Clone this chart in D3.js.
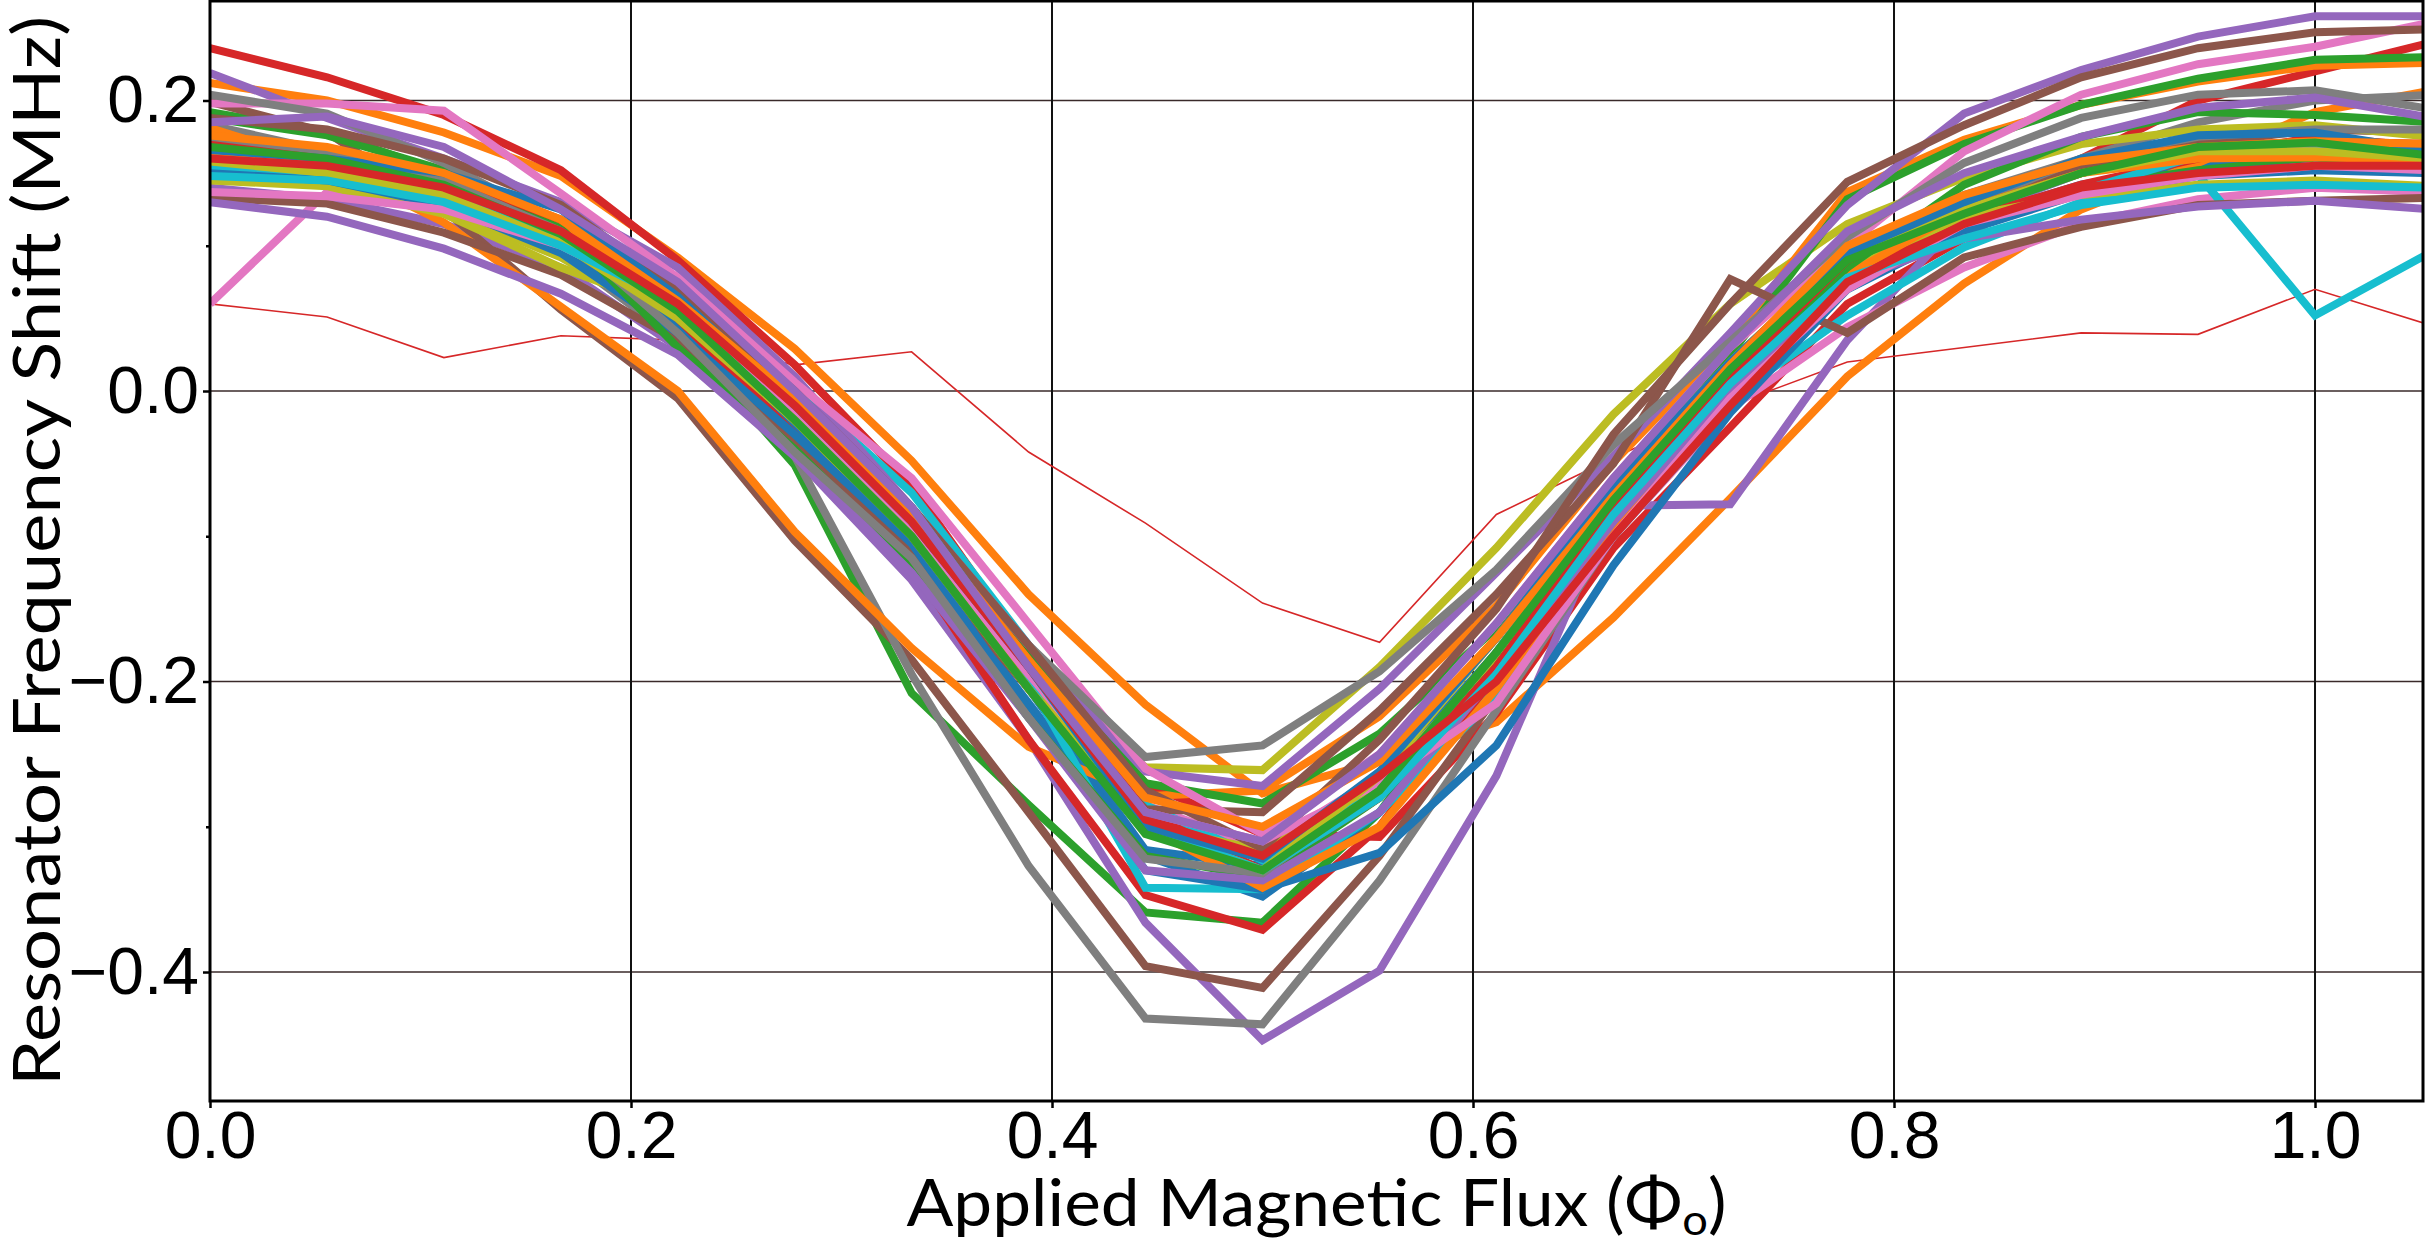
<!DOCTYPE html>
<html>
  <head>
    <title>Resonator frequency shift vs applied flux</title>
    <meta charset="utf-8">
    <style>
    body { margin: 0; border: 0; overflow: hidden; background: #fff; }
    .axis text {
      font-family: "Liberation Sans", Arial, sans-serif;
      font-size: 66px;
      fill: #000;
    }
    .axis path { display: none; }
    .axis line { stroke: #000; stroke-width: 2.5px; }
    .label {
      font-family: Lato, "Open Sans", sans-serif;
      font-size: 66px;
      fill: #000;
    }
    </style>
  </head>
  <body>
    <script src="https://cdnjs.cloudflare.com/ajax/libs/d3/7.8.5/d3.min.js"></script>
    <script>
// flux points, in units of the flux quantum (steps of 1/18)
var flux = [0, 0.0556, 0.1111, 0.1667, 0.2222, 0.2778, 0.3333, 0.3889, 0.4444, 0.5,
            0.5556, 0.6111, 0.6667, 0.7222, 0.7778, 0.8333, 0.8889, 0.9444, 1.0, 1.0556];

// frequency shift (MHz), one row per trace, grouped by the colour they get
var blueRuns = [
  [0.160, 0.152, 0.138, 0.108, 0.052, -0.020, -0.100, -0.205, -0.316, -0.327, -0.270, -0.180, -0.075, 0.012, 0.082, 0.118, 0.142, 0.155, 0.160, 0.158],
  [0.155, 0.148, 0.132, 0.100, 0.045, -0.028, -0.110, -0.215, -0.320, -0.348, -0.290, -0.195, -0.090, 0.003, 0.078, 0.114, 0.140, 0.150, 0.155, 0.152],
  [0.150, 0.145, 0.128, 0.095, 0.040, -0.030, -0.105, -0.220, -0.330, -0.343, -0.318, -0.244, -0.120, -0.015, 0.070, 0.110, 0.136, 0.148, 0.152, 0.150],
  [0.166, 0.160, 0.150, 0.125, 0.065, -0.010, -0.090, -0.190, -0.300, -0.322, -0.262, -0.170, -0.065, 0.020, 0.095, 0.130, 0.160, 0.176, 0.178, 0.165]
];
var orangeRuns = [
  [0.212, 0.200, 0.178, 0.148, 0.092, 0.029, -0.048, -0.140, -0.216, -0.277, -0.255, -0.228, -0.156, -0.074, 0.010, 0.074, 0.125, 0.157, 0.192, 0.207],
  [0.181, 0.156, 0.116, 0.058, 0.000, -0.097, -0.177, -0.245, -0.279, -0.275, -0.224, -0.148, -0.049, 0.034, 0.137, 0.173, 0.197, 0.213, 0.224, 0.226],
  [0.164, 0.158, 0.145, 0.112, 0.058, -0.015, -0.095, -0.205, -0.300, -0.342, -0.300, -0.205, -0.095, 0.000, 0.080, 0.125, 0.150, 0.160, 0.161, 0.159],
  [0.176, 0.168, 0.150, 0.118, 0.062, -0.005, -0.085, -0.185, -0.280, -0.300, -0.255, -0.170, -0.072, 0.018, 0.100, 0.135, 0.158, 0.168, 0.172, 0.170]
];
var greenRuns = [
  [0.192, 0.178, 0.150, 0.105, 0.040, -0.051, -0.208, -0.285, -0.359, -0.366, -0.290, -0.180, -0.075, 0.015, 0.085, 0.120, 0.140, 0.152, 0.160, 0.162],
  [0.188, 0.176, 0.152, 0.115, 0.060, -0.005, -0.085, -0.180, -0.270, -0.284, -0.236, -0.163, -0.065, 0.025, 0.132, 0.170, 0.197, 0.215, 0.228, 0.230],
  [0.171, 0.162, 0.145, 0.112, 0.030, -0.040, -0.120, -0.225, -0.320, -0.335, -0.280, -0.190, -0.080, 0.010, 0.085, 0.142, 0.175, 0.192, 0.190, 0.185],
  [0.168, 0.160, 0.142, 0.108, 0.055, -0.020, -0.100, -0.205, -0.305, -0.330, -0.275, -0.180, -0.075, 0.015, 0.090, 0.122, 0.150, 0.168, 0.171, 0.162]
];
var redRuns = [
  [0.236, 0.216, 0.190, 0.152, 0.090, 0.018, -0.065, -0.180, -0.270, -0.305, -0.307, -0.222, -0.108, -0.025, 0.060, 0.105, 0.160, 0.200, 0.220, 0.240],
  [0.175, 0.165, 0.145, 0.110, 0.050, -0.030, -0.120, -0.240, -0.347, -0.371, -0.300, -0.195, -0.090, 0.000, 0.080, 0.118, 0.142, 0.160, 0.175, 0.168],
  [0.170, 0.162, 0.148, 0.118, 0.065, -0.005, -0.085, -0.185, -0.290, -0.330, -0.280, -0.190, -0.080, 0.010, 0.090, 0.125, 0.150, 0.168, 0.172, 0.170],
  [0.160, 0.155, 0.140, 0.110, 0.060, -0.010, -0.090, -0.190, -0.295, -0.320, -0.265, -0.200, -0.100, -0.010, 0.075, 0.115, 0.140, 0.150, 0.155, 0.155]
];
var purpleRuns = [
  [0.140, 0.132, 0.115, 0.085, 0.030, -0.045, -0.130, -0.240, -0.366, -0.447, -0.399, -0.265, -0.079, -0.078, 0.035, 0.120, 0.150, 0.165, 0.170, 0.165],
  [0.219, 0.188, 0.160, 0.130, 0.085, 0.010, -0.080, -0.175, -0.262, -0.272, -0.205, -0.125, -0.045, 0.040, 0.128, 0.191, 0.221, 0.244, 0.258, 0.258],
  [0.130, 0.120, 0.098, 0.067, 0.025, -0.045, -0.125, -0.225, -0.330, -0.337, -0.290, -0.195, -0.090, 0.000, 0.075, 0.105, 0.118, 0.127, 0.131, 0.125],
  [0.185, 0.189, 0.168, 0.125, 0.075, 0.000, -0.080, -0.190, -0.290, -0.310, -0.250, -0.160, -0.060, 0.030, 0.110, 0.150, 0.175, 0.195, 0.202, 0.188]
];
var brownRuns = [
  [0.199, 0.178, 0.125, 0.056, -0.005, -0.103, -0.185, -0.290, -0.396, -0.411, -0.320, -0.210, -0.100, -0.005, 0.090, 0.130, 0.155, 0.170, 0.180, 0.178],
  [0.133, 0.129, 0.109, 0.080, 0.035, -0.035, -0.110, -0.205, -0.288, -0.290, -0.220, -0.140, -0.050, 0.077, 0.040, 0.092, 0.113, 0.128, 0.131, 0.133],
  [0.188, 0.180, 0.160, 0.128, 0.070, 0.000, -0.080, -0.175, -0.275, -0.315, -0.240, -0.150, -0.030, 0.060, 0.144, 0.183, 0.216, 0.236, 0.247, 0.249]
];
var pinkRuns = [
  [0.060, 0.137, 0.132, 0.108, 0.070, -0.010, -0.085, -0.190, -0.285, -0.315, -0.265, -0.205, -0.100, -0.012, 0.044, 0.085, 0.115, 0.132, 0.140, 0.137],
  [0.198, 0.198, 0.193, 0.136, 0.078, 0.006, -0.060, -0.160, -0.260, -0.305, -0.250, -0.160, -0.060, 0.030, 0.100, 0.165, 0.204, 0.225, 0.237, 0.254],
  [0.137, 0.134, 0.125, 0.100, 0.060, -0.015, -0.095, -0.195, -0.290, -0.310, -0.270, -0.215, -0.100, -0.005, 0.070, 0.115, 0.135, 0.148, 0.155, 0.152]
];
var grayRuns = [
  [0.183, 0.165, 0.135, 0.095, 0.035, -0.045, -0.195, -0.327, -0.432, -0.436, -0.337, -0.220, -0.100, 0.000, 0.090, 0.127, 0.160, 0.185, 0.200, 0.204],
  [0.204, 0.191, 0.157, 0.115, 0.060, -0.010, -0.085, -0.175, -0.252, -0.244, -0.193, -0.123, -0.037, 0.034, 0.106, 0.157, 0.188, 0.204, 0.207, 0.194],
  [0.175, 0.165, 0.145, 0.110, 0.040, -0.042, -0.115, -0.225, -0.322, -0.332, -0.275, -0.180, -0.070, 0.020, 0.095, 0.135, 0.160, 0.175, 0.180, 0.180]
];
var oliveRuns = [
  [0.150, 0.143, 0.125, 0.092, 0.045, -0.025, -0.105, -0.200, -0.259, -0.261, -0.190, -0.108, -0.016, 0.060, 0.115, 0.147, 0.170, 0.180, 0.183, 0.175],
  [0.145, 0.141, 0.122, 0.085, 0.055, -0.015, -0.095, -0.200, -0.300, -0.316, -0.270, -0.185, -0.080, 0.010, 0.085, 0.120, 0.135, 0.142, 0.145, 0.141],
  [0.158, 0.150, 0.135, 0.102, 0.050, -0.020, -0.100, -0.205, -0.300, -0.330, -0.265, -0.170, -0.065, 0.020, 0.095, 0.125, 0.150, 0.165, 0.165, 0.160]
];
var cyanRuns = [
  [0.152, 0.152, 0.138, 0.111, 0.069, 0.003, -0.070, -0.175, -0.285, -0.323, -0.275, -0.205, -0.095, -0.005, 0.052, 0.099, 0.130, 0.149, 0.052, 0.096],
  [0.154, 0.150, 0.135, 0.105, 0.055, -0.010, -0.090, -0.200, -0.342, -0.343, -0.290, -0.210, -0.100, -0.010, 0.070, 0.112, 0.138, 0.162, 0.165, 0.160],
  [0.148, 0.145, 0.130, 0.100, 0.060, -0.005, -0.080, -0.190, -0.300, -0.330, -0.280, -0.195, -0.085, 0.005, 0.078, 0.105, 0.128, 0.140, 0.142, 0.140]
];
// the odd one out, drawn thin
var thinRun = [0.060, 0.051, 0.023, 0.038, 0.035, 0.018, 0.027, -0.042, -0.091, -0.146,
               -0.173, -0.085, -0.046, -0.010, 0.020, 0.030, 0.040, 0.039, 0.070, 0.045];

var xTicks = [0, 0.2, 0.4, 0.6, 0.8, 1.0],
    yTicks = [-0.4, -0.2, 0.0, 0.2],
    yMinor = [-0.3, -0.1, 0.1];

var groups = [
  {runs: blueRuns,   color: "#1f77b4"},
  {runs: orangeRuns, color: "#ff7f0e"},
  {runs: greenRuns,  color: "#2ca02c"},
  {runs: redRuns,    color: "#d62728"},
  {runs: purpleRuns, color: "#9467bd"},
  {runs: brownRuns,  color: "#8c564b"},
  {runs: pinkRuns,   color: "#e377c2"},
  {runs: grayRuns,   color: "#7f7f7f"},
  {runs: oliveRuns,  color: "#bcbd22"},
  {runs: cyanRuns,   color: "#17becf"}
];

var width = 2425, height = 1243,
    margin = ({top: 1, right: 2, bottom: 142, left: 210});

var x_scale = d3.scaleLinear().domain([0, 1.0513]).range([margin.left, width - margin.right]),
    y_scale = d3.scaleLinear().domain([-0.4888, 0.2685]).range([height - margin.bottom, margin.top]);

var svg = d3.select("body").append("svg")
    .attr("width", width)
    .attr("height", height);

svg.append("clipPath").attr("id", "plot-clip")
  .append("rect")
    .attr("x", margin.left).attr("y", margin.top)
    .attr("width", width - margin.left - margin.right)
    .attr("height", height - margin.top - margin.bottom);

// grid
svg.append("g").selectAll("line")
  .data(yTicks)
  .enter().append("line")
    .attr("x1", margin.left).attr("x2", width - margin.right)
    .attr("y1", function(d) { return y_scale(d); })
    .attr("y2", function(d) { return y_scale(d); })
    .attr("stroke", "#3a2a2a")
    .attr("stroke-width", 1.6);

svg.append("g").selectAll("line")
  .data(xTicks)
  .enter().append("line")
    .attr("x1", function(d) { return x_scale(d); })
    .attr("x2", function(d) { return x_scale(d); })
    .attr("y1", margin.top).attr("y2", height - margin.bottom)
    .attr("stroke", "#111")
    .attr("stroke-width", 2);

// traces, in the order a colour cycle would hand them out
var ordered = [];
for (var r = 0; r < 4; r++) {
  groups.forEach(function(g) {
    if (g.runs[r]) ordered.push({values: g.runs[r], color: g.color, width: 8});
  });
}

var line = d3.line()
  .x(function(d, i) { return x_scale(flux[i]); })
  .y(function(d) { return y_scale(d); });

var traces = svg.append("g").attr("clip-path", "url(#plot-clip)");

traces.append("path")
  .attr("d", line(thinRun))
  .attr("fill", "none")
  .attr("stroke", "#d62728")
  .attr("stroke-width", 1.6);

traces.selectAll("path.trace")
  .data(ordered)
  .enter().append("path")
    .attr("class", "trace")
    .attr("d", function(d) { return line(d.values); })
    .attr("fill", "none")
    .attr("stroke", function(d) { return d.color; })
    .attr("stroke-width", function(d) { return d.width; });

// axes
var fmt = d3.format(".1f");

svg.append("g")
  .attr("class", "axis")
  .attr("transform", "translate(0," + (height - margin.bottom) + ")")
  .call(d3.axisBottom(x_scale).tickValues(xTicks).tickFormat(fmt).tickSize(7).tickPadding(3));

svg.append("g")
  .attr("class", "axis")
  .attr("transform", "translate(" + margin.left + ",0)")
  .call(d3.axisLeft(y_scale).tickValues(yTicks).tickFormat(fmt).tickSize(7).tickPadding(4));

svg.append("g")
  .attr("class", "axis")
  .attr("transform", "translate(" + margin.left + ",0)")
  .call(d3.axisLeft(y_scale).tickValues(yMinor).tickFormat("").tickSize(4));

// frame
svg.append("rect")
  .attr("x", margin.left).attr("y", margin.top)
  .attr("width", width - margin.left - margin.right)
  .attr("height", height - margin.top - margin.bottom)
  .attr("fill", "none")
  .attr("stroke", "#000")
  .attr("stroke-width", 3);

// axis titles
var xl = svg.append("text")
  .attr("class", "label")
  .attr("x", (margin.left + width - margin.right) / 2)
  .attr("y", 1226)
  .attr("text-anchor", "middle")
  .attr("textLength", 820)
  .attr("lengthAdjust", "spacingAndGlyphs");
xl.append("tspan").text("Applied Magnetic Flux (Φ");
xl.append("tspan").attr("font-size", "43px").attr("dy", 9).text("o");
xl.append("tspan").attr("dy", -9).text(")");

svg.append("text")
  .attr("class", "label")
  .attr("transform", "translate(60," + ((margin.top + height - margin.bottom) / 2) + ") rotate(-90)")
  .attr("text-anchor", "middle")
  .attr("textLength", 1070)
  .attr("lengthAdjust", "spacingAndGlyphs")
  .text("Resonator Frequency Shift (MHz)");
    </script>
  </body>
</html>
